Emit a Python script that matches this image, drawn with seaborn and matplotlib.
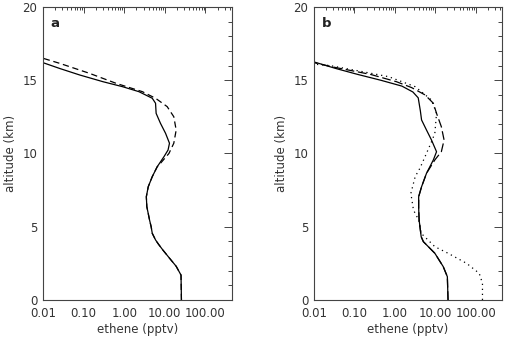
import matplotlib
matplotlib.use("Agg")
import matplotlib.pyplot as plt
import matplotlib.ticker as mticker
import numpy as np
import seaborn as sns

# panel a
alt_a_solid = [0.0, 1.7, 2.3, 2.8, 3.4, 3.8, 4.1, 4.55, 5.0, 5.46, 5.9, 6.37, 7.05, 7.73,
               8.42, 9.1, 9.78, 10.24, 10.7, 11.38, 12.06, 12.74, 13.43, 13.77, 14.22,
               14.56, 14.9, 15.36, 15.8, 16.2]
eth_a_solid = [25.6, 25.0, 19.0, 13.5, 9.0, 7.0, 5.9, 4.9, 4.6, 4.2, 3.9, 3.6, 3.5, 3.9,
               4.9, 6.5, 9.5, 12.0, 13.0, 10.4, 7.8, 6.1, 5.9, 4.9, 2.3,
               0.91, 0.3, 0.08, 0.026, 0.01]
alt_a_dash = [0.0, 1.7, 2.3, 2.8, 3.4, 3.8, 4.1, 4.55, 5.0, 5.46, 5.9, 6.37, 7.05, 7.73,
              8.42, 9.1, 9.33, 10.0, 10.7, 11.6, 12.51, 13.2, 13.77, 14.22, 14.79,
              15.47, 16.15, 16.5]
eth_a_dash = [25.6, 25.0, 19.0, 13.5, 9.0, 7.0, 5.9, 4.9, 4.6, 4.2, 3.9, 3.6, 3.5, 3.9,
              4.9, 6.5, 7.8, 12.6, 16.6, 19.0, 16.6, 11.4, 5.9, 2.8, 0.63,
              0.14, 0.026, 0.01]

# panel b
alt_b_solid = [0.0, 1.59, 2.28, 3.19, 3.98, 4.32, 5.46, 6.3, 7.05, 7.73, 8.65, 9.56, 10.12,
               10.92, 11.6, 12.29, 12.9, 13.43, 13.8, 14.2, 14.6, 15.0, 15.4, 15.8, 16.25]
eth_b_solid = [20.8, 20.0, 15.8, 9.8, 5.1, 4.5, 4.0, 3.9, 3.9, 4.6, 6.1, 9.0, 10.8,
               8.1, 6.1, 4.6, 4.3, 4.0, 3.8, 2.8, 1.5, 0.45, 0.12, 0.035, 0.01]
alt_b_dash = [0.0, 1.59, 2.28, 3.19, 3.98, 4.32, 5.46, 6.3, 7.05, 7.73, 8.65, 9.56, 10.12,
              10.92, 11.83, 12.74, 13.43, 14.0, 14.5, 14.9, 15.4, 15.9, 16.2]
eth_b_dash = [20.8, 20.0, 15.8, 9.8, 5.1, 4.5, 4.0, 3.9, 3.9, 4.6, 6.1, 9.8, 14.2,
              16.6, 14.2, 10.8, 9.0, 5.6, 2.6, 1.1, 0.25, 0.03, 0.01]
alt_b_dot = [0.0, 1.14, 1.82, 2.5, 3.19, 3.64, 4.55, 5.46, 6.14, 7.28, 8.42, 9.0, 9.78,
             10.8, 11.38, 12.74, 13.65, 14.56, 15.24, 15.6, 16.0, 16.1]
eth_b_dot = [148, 148, 123, 60, 20.8, 9.8, 4.5, 3.9, 2.9, 2.5, 3.2, 4.2, 5.6,
             8.1, 9.8, 10.8, 8.1, 3.2, 0.71, 0.15, 0.025, 0.01]

xticks = [0.01, 0.1, 1, 10, 100]
xticklabels = ["0.01", "0.10", "1.00", "10.00", "100.00"]

sns.set_style("white")
plt.rcParams['font.family'] = ['DejaVu Sans']
txt = "#333333"

fig = plt.figure(figsize=(5.07, 3.43), dpi=100)
ax_a = fig.add_axes([0.0848, 0.1254, 0.3728, 0.8542])
ax_b = fig.add_axes([0.6193, 0.1254, 0.3708, 0.8542])

lw = 0.9
sns.lineplot(x=eth_a_solid, y=alt_a_solid, sort=False, estimator=None, ax=ax_a,
             color="black", lw=lw)
sns.lineplot(x=eth_a_dash, y=alt_a_dash, sort=False, estimator=None, ax=ax_a,
             color="black", lw=lw, linestyle=(0, (5, 3)))
sns.lineplot(x=eth_b_solid, y=alt_b_solid, sort=False, estimator=None, ax=ax_b,
             color="black", lw=lw)
sns.lineplot(x=eth_b_dash, y=alt_b_dash, sort=False, estimator=None, ax=ax_b,
             color="black", lw=lw, linestyle=(0, (7, 3)))
sns.lineplot(x=eth_b_dot, y=alt_b_dot, sort=False, estimator=None, ax=ax_b,
             color="black", lw=lw, linestyle=(0, (1, 3)))

for ax, lab in [(ax_a, "a"), (ax_b, "b")]:
    ax.set_xscale("log")
    ax.set_xlim(0.01, 450)
    ax.set_ylim(0, 20)
    ax.set_xticks(xticks)
    ax.set_xticklabels(xticklabels)
    ax.xaxis.set_minor_locator(mticker.LogLocator(base=10, subs=np.arange(2, 10)))
    ax.xaxis.set_minor_formatter(mticker.NullFormatter())
    ax.set_yticks([0, 5, 10, 15, 20])
    ax.yaxis.set_minor_locator(mticker.MultipleLocator(1))
    ax.tick_params(which="both", direction="in", top=True, right=True,
                   colors="#444444", labelcolor=txt, labelsize=8.5, width=0.7)
    ax.tick_params(axis="y", which="major", length=6, pad=4)
    ax.tick_params(axis="y", which="minor", length=3)
    ax.tick_params(axis="x", which="major", length=4.5, pad=5)
    ax.tick_params(axis="x", which="minor", length=2.5)
    for s in ax.spines.values():
        s.set_color("#444444")
        s.set_linewidth(0.8)
    ax.set_xlabel("ethene (pptv)", color=txt, fontsize=8.5, labelpad=2)
    ax.set_ylabel("altitude (km)", color=txt, fontsize=8.5, labelpad=4)
    ax.text(0.04, 0.945, lab, transform=ax.transAxes, fontsize=9.5,
            fontweight="bold", color="#222222", va="center", ha="left")

fig.savefig("out.png", dpi=100)
